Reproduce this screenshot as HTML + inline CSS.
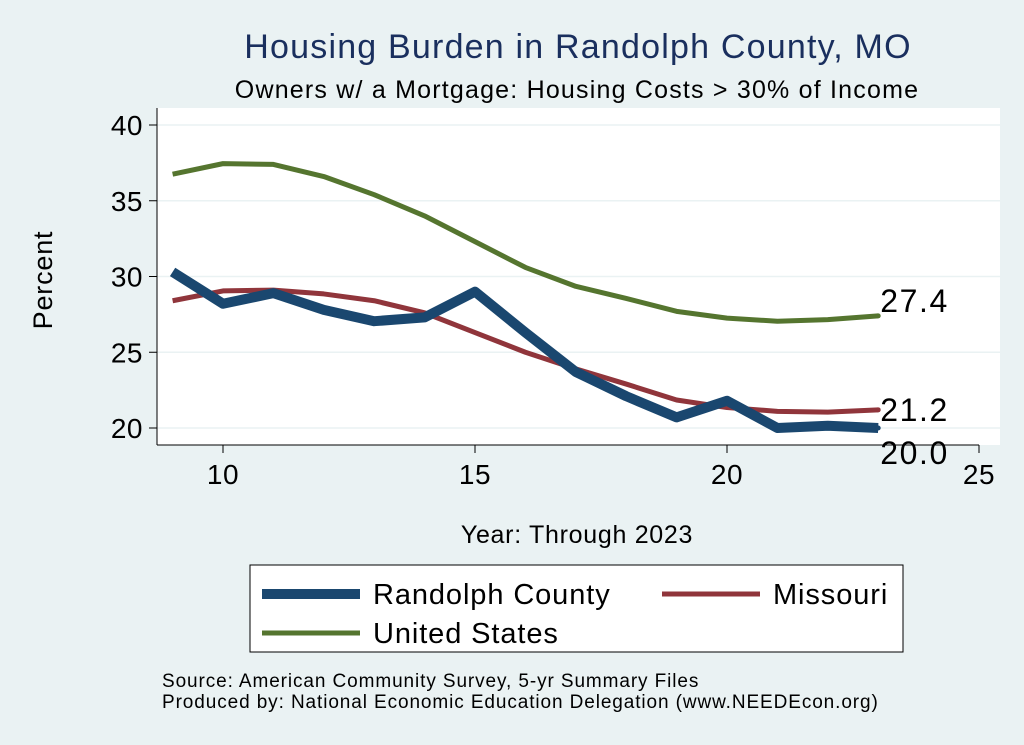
<!DOCTYPE html>
<html><head><meta charset="utf-8"><style>
body{margin:0;background:#eaf2f3;font-family:"Liberation Sans",Arial,sans-serif;}
svg{display:block}
</style></head><body>
<svg width="1024" height="745" xmlns="http://www.w3.org/2000/svg">
<rect x="0" y="0" width="1024" height="745" fill="#eaf2f3"/>
<text x="578" y="58" font-size="34" letter-spacing="1.2" fill="#1a2f5e" text-anchor="middle">Housing Burden in Randolph County, MO</text>
<text x="577" y="98" font-size="25" letter-spacing="1.2" fill="#000" text-anchor="middle">Owners w/ a Mortgage: Housing Costs &gt; 30% of Income</text>
<rect x="157" y="108" width="843" height="337" fill="#fff"/>
<g id="grid"></g>
<g id="axes"></g>
<g id="series"></g>
<text x="52" y="280" font-size="27" letter-spacing="0.8" text-anchor="middle" transform="rotate(-90 52 280)">Percent</text>
<text x="577" y="543" font-size="25" letter-spacing="0.7" text-anchor="middle">Year: Through 2023</text>
<g>
<rect x="250" y="565" width="653" height="87" fill="#fff" stroke="#000" stroke-width="1"/>
<g><line x1="262" y1="594" x2="360" y2="594" stroke="#1a476f" stroke-width="10"/><text x="373" y="604" font-size="29" letter-spacing="0.9">Randolph County</text></g>
<g><line x1="662" y1="594" x2="760" y2="594" stroke="#90353b" stroke-width="5"/><text x="773" y="604" font-size="29" letter-spacing="0.9">Missouri</text></g>
<g><line x1="262" y1="633" x2="360" y2="633" stroke="#55752f" stroke-width="5"/><text x="373" y="643" font-size="29" letter-spacing="0.9">United States</text></g>
</g>
<text x="162" y="687" font-size="19" letter-spacing="0.9">Source: American Community Survey, 5-yr Summary Files</text>
<text x="162" y="708" font-size="19" letter-spacing="0.9">Produced by: National Economic Education Delegation (www.NEEDEcon.org)</text>
</svg>
<script>
const years=[9,10,11,12,13,14,15,16,17,18,19,20,21,22,23];
const randolph=[30.3,28.2,28.9,27.8,27.05,27.3,29.0,26.3,23.7,22.1,20.7,21.8,20.0,20.15,20.0];
const missouri=[28.4,29.05,29.1,28.85,28.4,27.6,26.3,25.0,23.9,22.9,21.85,21.35,21.1,21.05,21.2];
const us=[36.75,37.45,37.4,36.6,35.4,34.0,32.3,30.6,29.35,28.55,27.7,27.25,27.05,27.15,27.4];
const yTicks=[20,25,30,35,40];
const xTicks=[10,15,20,25];
const NS="http://www.w3.org/2000/svg";
const sx=v=>223+(v-10)*50.4;
const sy=v=>428-(v-20)*15.15;
function mk(t,a,p){const e=document.createElementNS(NS,t);for(const k in a)e.setAttribute(k,a[k]);p.appendChild(e);return e;}
const grid=document.getElementById('grid'),axes=document.getElementById('axes'),ser=document.getElementById('series');
yTicks.forEach(v=>{
 const g=mk('line',{x1:157,x2:1000,y1:sy(v),y2:sy(v),stroke:'#eaf2f3','stroke-width':1.5},grid);
 
 
 const t=mk('line',{x1:149,x2:157,y1:sy(v),y2:sy(v),stroke:'#000','stroke-width':1},axes);
 
 
 const l=mk('text',{x:143,y:sy(v)+10,'font-size':28,'letter-spacing':0.5,'text-anchor':'end'},axes);l.textContent=v;
 
 
});
xTicks.forEach(v=>{
 const t=mk('line',{x1:sx(v),x2:sx(v),y1:445,y2:453,stroke:'#000','stroke-width':1},axes);
 
 
 const l=mk('text',{x:sx(v),y:484,'font-size':28,'letter-spacing':0.5,'text-anchor':'middle'},axes);l.textContent=v;
 
 
});
const ya=mk('line',{x1:157,x2:157,y1:108,y2:445,stroke:'#000','stroke-width':1},axes);


const xa=mk('line',{x1:157,x2:sx(25),y1:445,y2:445,stroke:'#000','stroke-width':1},axes);


function line(vals,col,w,name,lblDy){
 const p=mk('polyline',{points:vals.map((v,i)=>sx(years[i])+','+sy(v)).join(' '),fill:'none',stroke:col,'stroke-width':w,'stroke-linejoin':'round'},ser);
 
 
 const last=vals[vals.length-1];
 const d=mk('circle',{cx:sx(years[years.length-1]),cy:sy(last),r:2.5,fill:col},ser);
 
 
 const t=mk('text',{x:sx(years[years.length-1])+2,y:sy(last)+lblDy,'font-size':32,'letter-spacing':1.6},ser);
 t.textContent=last.toFixed(1);
 
 
}
line(us,'#55752f',5,'us-line',-4);
line(missouri,'#90353b',5,'missouri-line',11);
line(randolph,'#1a476f',10,'randolph-line',36);
</script>
</body></html>
